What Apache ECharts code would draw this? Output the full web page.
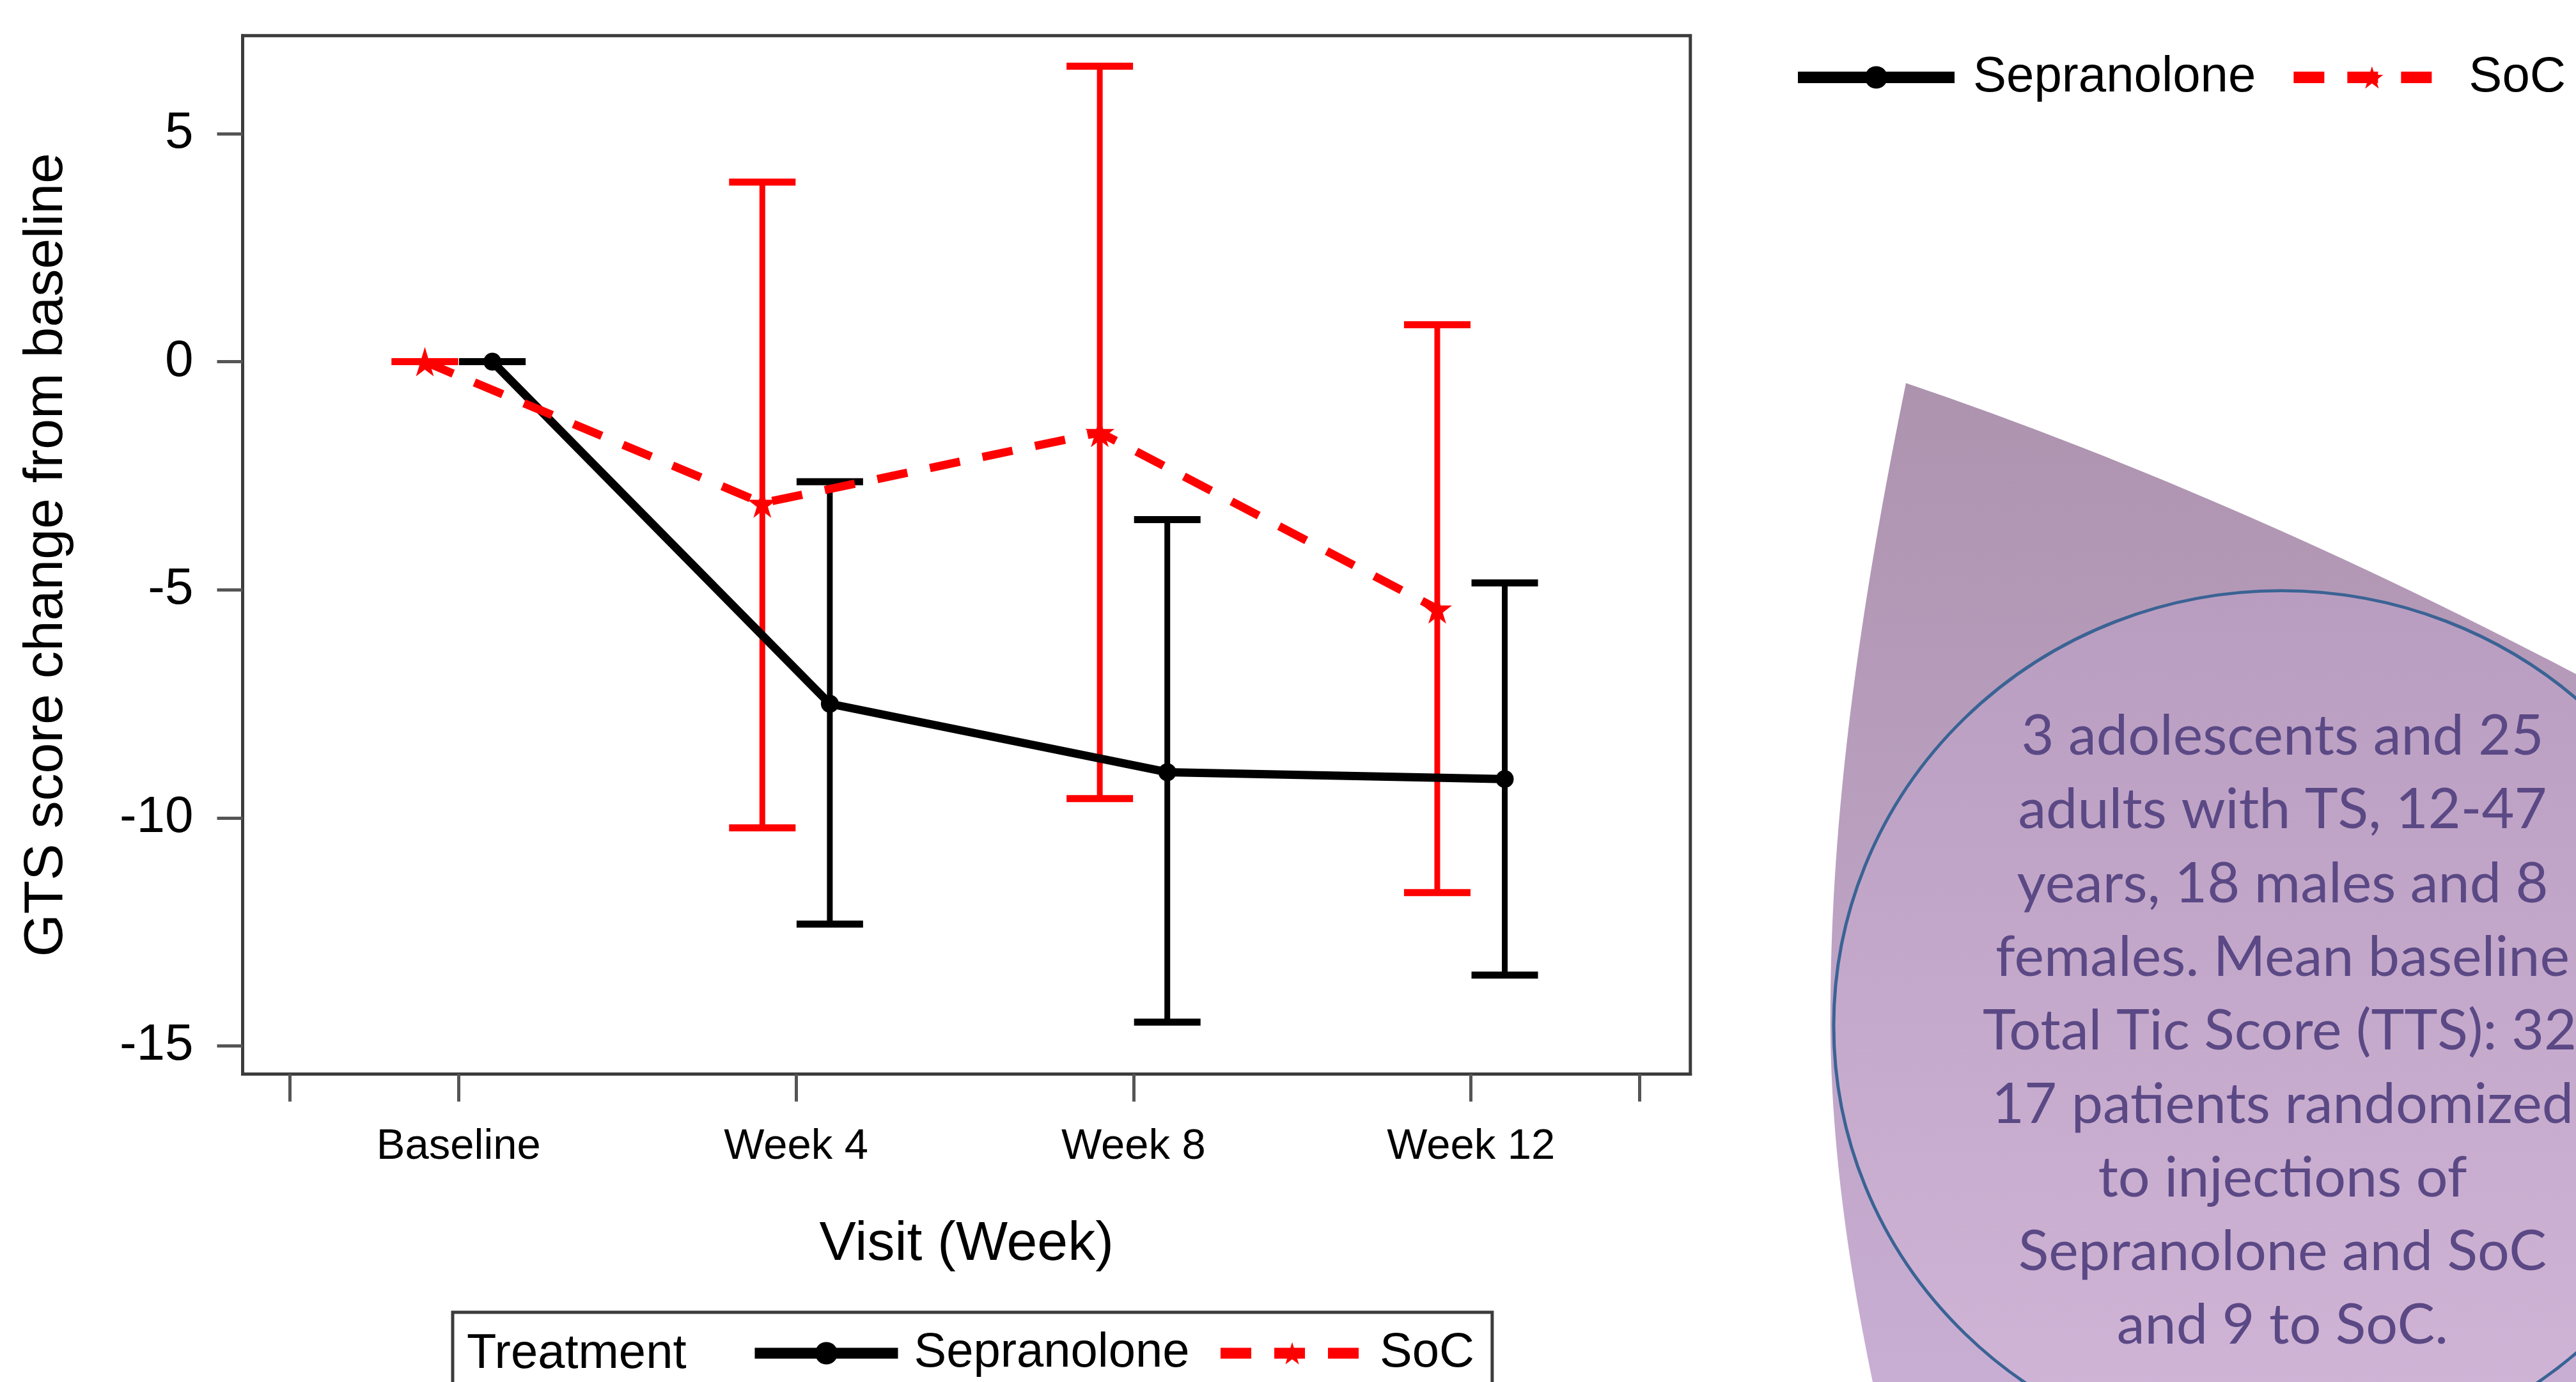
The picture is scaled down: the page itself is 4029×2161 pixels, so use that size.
<!DOCTYPE html>
<html><head><meta charset="utf-8">
<script src="https://cdn.jsdelivr.net/npm/echarts@6/dist/echarts.min.js"></script>
<style>html,body{margin:0;padding:0;background:#fff}#c{width:4029px;height:2161px}</style>
</head><body><div id="c"></div>
<script>
// ---------- data ----------
const categories = ['Baseline', 'Week 4', 'Week 8', 'Week 12'];
const sepMean = [0, -7.5, -9.0, -9.15];
const sepLow  = [0, -12.33, -14.48, -13.45];
const sepHigh = [0, -2.63, -3.46, -4.85];
const socMean = [0, -3.1, -1.55, -5.42];
const socLow  = [0, -10.22, -9.58, -11.64];
const socHigh = [0, 3.94, 6.48, 0.81];
const yTicks = [-15, -10, -5, 0, 5];
const seriesNames = ['Sepranolone', 'SoC'];
const legendTitle = 'Treatment';
const xAxisTitle = 'Visit (Week)';
const yAxisTitle = 'GTS score change from baseline';
const noteLines = [
  '3 adolescents and 25',
  'adults with TS, 12-47',
  'years, 18 males and 8',
  'females. Mean baseline',
  'Total Tic Score (TTS): 32.',
  '17 patients randomized',
  'to injections of',
  'Sepranolone and SoC',
  'and 9 to SoC.'
];

// ---------- styling ----------
const DODGE = 0.1;
const SANS = "'Liberation Sans',Arial,sans-serif";
const STAR = 'path://M50,0 L61,35 L98,35 L68,57 L79,91 L50,70 L21,91 L32,57 L2,35 L39,35 Z';
const AXIS_COLOR = '#3c3c3c';

function errorBars(name, low, high, offset, color) {
  return {
    type: 'custom', name: name + ' CL', silent: true, z: 1,
    data: categories.map((c, i) => [i + offset, low[i], high[i]]),
    encode: { x: 0, y: [1, 2] },
    renderItem(params, api) {
      const x = api.value(0);
      const pHi = api.coord([x, api.value(2)]);
      const pLo = api.coord([x, api.value(1)]);
      const hw = 52;
      const st = { stroke: color, lineWidth: 9 };
      const cap = { stroke: color, lineWidth: 11 };
      return { type: 'group', children: [
        { type: 'line', shape: { x1: pHi[0], y1: pHi[1], x2: pLo[0], y2: pLo[1] }, style: st },
        { type: 'line', shape: { x1: pHi[0] - hw, y1: pHi[1], x2: pHi[0] + hw, y2: pHi[1] }, style: cap },
        { type: 'line', shape: { x1: pLo[0] - hw, y1: pLo[1], x2: pLo[0] + hw, y2: pLo[1] }, style: cap }
      ]};
    }
  };
}

// decorative leaf outline (sampled bezier curves)
function leafPoints() {
  const pts = [];
  const q = (p0, c, p2, n) => { for (let k = 0; k <= n; k++) { const t = k / n, u = 1 - t;
    pts.push([u*u*p0[0] + 2*u*t*c[0] + t*t*p2[0], u*u*p0[1] + 2*u*t*c[1] + t*t*p2[1]]); } };
  const cb = (p0, c1, c2, p3, n) => { for (let k = 1; k <= n; k++) { const t = k / n, u = 1 - t;
    pts.push([u*u*u*p0[0] + 3*u*u*t*c1[0] + 3*u*t*t*c2[0] + t*t*t*p3[0],
              u*u*u*p0[1] + 3*u*u*t*c1[1] + 3*u*t*t*c2[1] + t*t*t*p3[1]]); } };
  q([2981, 599], [3490, 772], [4029, 1054], 30);
  pts.push([4029, 2161]);
  pts.push([2929, 2161]);
  cb([2929, 2161], [2885, 1950], [2860, 1750], [2863, 1560], 30);
  cb([2863, 1560], [2866, 1200], [2930, 850], [2981, 599], 40);
  return pts;
}

const chart = echarts.init(document.getElementById('c'), null, { renderer: 'canvas' });

const noteBaselines0 = 1182, noteStep = 115.1;
const noteGraphics = noteLines.map((t, i) => {
  const y = noteBaselines0 + noteStep * i - 30;
  const left = (i === 4);
  return {
    type: 'text', z: 5, x: left ? 3101 : 3570, y: y,
    style: { text: t, fill: '#5b4985', font: "88px Lato, 'Open Sans', sans-serif",
             align: left ? 'left' : 'center', verticalAlign: 'middle' }
  };
});

const option = {
  animation: false,
  backgroundColor: '#ffffff',
  grid: { left: 379.5, top: 55.7, right: 1385.2, bottom: 481.4, show: true,
          borderColor: AXIS_COLOR, borderWidth: 5, backgroundColor: 'transparent',
          containLabel: false, outerBoundsMode: 'none' },
  xAxis: {
    type: 'value', min: -0.64, max: 3.65,
    axisLine: { show: true, onZero: false, lineStyle: { color: AXIS_COLOR, width: 5 } },
    axisTick: { show: true, customValues: [-0.5, 0, 1, 2, 3, 3.5], length: 43, inside: false,
                lineStyle: { color: '#555', width: 5 } },
    axisLabel: { customValues: [0, 1, 2, 3], formatter: v => categories[Math.round(v)],
                 fontSize: 67, fontFamily: SANS, color: '#000', margin: 80 },
    splitLine: { show: false },
    name: xAxisTitle, nameLocation: 'middle', nameGap: 224, nameMoveOverlap: false,
    nameTextStyle: { fontSize: 86, fontFamily: SANS, color: '#000' }
  },
  yAxis: {
    type: 'value', min: -15.62, max: 7.15,
    axisLine: { show: true, onZero: false, lineStyle: { color: AXIS_COLOR, width: 5 } },
    axisTick: { show: true, customValues: yTicks, length: 40, inside: false,
                lineStyle: { color: '#555', width: 5 } },
    axisLabel: { customValues: yTicks, fontSize: 80, fontFamily: SANS, color: '#000', margin: 77 },
    splitLine: { show: false },
    name: yAxisTitle, nameLocation: 'middle', nameGap: 263, nameRotate: 90, nameMoveOverlap: false,
    nameTextStyle: { fontSize: 86, fontFamily: SANS, color: '#000' }
  },
  legend: [
    { left: 2803, top: 82, width: 1400, orient: 'horizontal', itemWidth: 245, itemHeight: 44, itemGap: 50,
      padding: 0, selectedMode: false,
      lineStyle: { width: 18 },
      textStyle: { fontSize: 78, fontFamily: SANS, color: '#000', padding: [0, 0, 0, 24] },
      data: seriesNames },
    { left: 708, top: 2052, width: 2000, orient: 'horizontal', itemWidth: 224, itemHeight: 44, itemGap: 40,
      padding: [26, 28, 120, 464], selectedMode: false,
      borderColor: AXIS_COLOR, borderWidth: 5, backgroundColor: '#ffffff',
      lineStyle: { width: 17 },
      textStyle: { fontSize: 76, fontFamily: SANS, color: '#000', padding: [0, 0, 0, 20] },
      data: seriesNames }
  ],
  graphic: [
    { type: 'polygon', z: 0, silent: true,
      shape: { points: leafPoints() },
      style: { fill: new echarts.graphic.LinearGradient(0, 0, 0, 1, [
        { offset: 0, color: '#ad93ae' }, { offset: 1, color: '#c9aed4' }]) } },
    { type: 'circle', z: 1, silent: true,
      shape: { cx: 3568, cy: 1604, r: 700 }, scaleY: 0.972, originX: 3568, originY: 1604,
      style: { fill: new echarts.graphic.LinearGradient(0, 0, 0, 1, [
        { offset: 0, color: '#b99dc0' }, { offset: 1, color: '#d2b6d8' }]),
        stroke: '#3a6394', lineWidth: 5, strokeNoScale: true } },
    ...noteGraphics,
    { type: 'text', z: 20, x: 730, y: 2118,
      style: { text: legendTitle, font: '76px ' + SANS, fill: '#000', align: 'left', verticalAlign: 'middle' } }
  ],
  series: [
    errorBars('Sepranolone', sepLow, sepHigh, DODGE, '#000000'),
    errorBars('SoC', socLow, socHigh, -DODGE, '#ff0000'),
    { name: 'Sepranolone', type: 'line', z: 3, silent: true,
      data: categories.map((c, i) => [i + DODGE, sepMean[i]]),
      symbol: 'circle', symbolSize: 28,
      lineStyle: { color: '#000000', width: 13 }, itemStyle: { color: '#000000' },
      emphasis: { disabled: true } },
    { name: 'SoC', type: 'line', z: 4, silent: true,
      data: categories.map((c, i) => [i - DODGE, socMean[i]]),
      symbol: STAR, symbolSize: 46,
      lineStyle: { color: '#ff0000', width: 13, type: [48, 36] }, itemStyle: { color: '#ff0000' },
      emphasis: { disabled: true } }
  ]
};
chart.setOption(option);
</script>
</body></html>
